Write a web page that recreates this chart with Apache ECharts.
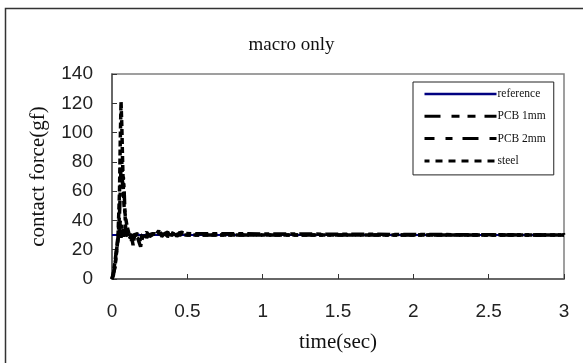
<!DOCTYPE html>
<html>
<head>
<meta charset="utf-8">
<script src="https://cdn.jsdelivr.net/npm/echarts@6/dist/echarts.min.js"></script>
<style>
  html, body { margin: 0; padding: 0; background: #fff; }
  #chart { width: 583px; height: 363px; }
</style>
</head>
<body>
<div id="chart"></div>
<script>
// Contact force transients, "macro only" run
const chartTitle = 'macro only';
const xAxisName = 'time(sec)';
const yAxisName = 'contact force(gf)';
const xTicks = [0, 0.5, 1, 1.5, 2, 2.5, 3];
const yTicks = [0, 20, 40, 60, 80, 100, 120, 140];

const seriesNames = ['reference', 'PCB 1mm', 'PCB 2mm', 'steel'];

const referenceTime = [0, 3];
const referenceForce = [30, 30];

const pcb1Time = [0, 0.01, 0.02, 0.03, 0.04, 0.05, 0.055, 0.06, 0.065, 0.07, 0.075, 0.08, 0.085, 0.09, 0.095,
  0.1, 0.11, 0.12, 0.13, 0.14, 0.15, 0.17, 0.19, 0.21, 0.23, 0.25, 0.28, 0.31, 0.34, 0.37, 0.4, 0.43, 0.46, 0.5,
  2.98, 2.99, 3.0];
const pcb1Force = [0, 3, 10, 18, 28, 45, 60, 78, 80, 64, 70, 62, 48, 36, 30,
  33, 28, 31, 26, 30, 29, 31, 25, 30, 32, 29, 31, 30, 32, 29, 31, 30, 32, 30,
  30, 32, 30];

const pcb2Time = [0, 0.01, 0.02, 0.03, 0.04, 0.05, 0.055, 0.06, 0.065, 0.07, 0.075, 0.08, 0.09,
  0.1, 0.11, 0.12, 0.13, 0.14, 0.15, 0.16, 0.17, 0.18, 0.19, 0.2, 0.21, 0.22, 0.23, 0.24, 0.25,
  0.27, 0.29, 0.31, 0.33, 0.35, 0.37, 0.39, 0.41, 0.43, 0.45, 0.47, 0.49, 0.5, 3.0];
const pcb2Force = [0, 5, 12, 20, 27, 34, 40, 28, 37, 31, 34, 29, 32,
  30, 31, 27, 29, 23, 30, 31, 28, 29, 22, 30, 29, 31, 28, 30, 29,
  31, 30, 33, 29, 31, 32, 28, 33, 29, 32, 30, 31, 30, 30];

const steelTime = [0, 0.02, 0.04, 0.05, 0.055, 0.06, 0.065, 0.07, 0.075, 0.08, 0.09, 0.1, 0.11, 0.12,
  0.13, 0.14, 0.16, 0.18, 0.2, 0.25, 0.3, 0.4, 0.5, 3.0];
const steelForce = [0, 8, 30, 60, 95, 121, 105, 82, 62, 50, 42, 36, 32, 28,
  31, 29, 30, 31, 29, 30, 31, 30, 30, 30];

const pairs = (t, v) => t.map((x, i) => [x, v[i]]);

const serif = 'Liberation Serif';
const sans = 'Liberation Sans';

// Dash patterns: tight ones for the plotted traces, longer ones for the key
const traceDash = { pcb1: [13, 4, 4, 4, 4, 4], pcb2: [13, 4, 5, 4], steel: [6, 3] };
const keyDash = { pcb1: [16, 11, 8, 8, 8, 9], pcb2: [16, 11, 7, 10], steel: [7, 6] };

const chart = echarts.init(document.getElementById('chart'), null, { renderer: 'canvas' });

chart.setOption({
  backgroundColor: '#ffffff',
  animation: false,
  title: {
    text: chartTitle,
    left: 'center',
    top: 31,
    textStyle: { fontFamily: serif, fontSize: 19, fontWeight: 'normal', color: '#111' }
  },
  graphic: [{
    type: 'rect',
    shape: { x: 5.5, y: 8.5, width: 640, height: 420 },
    style: { fill: 'none', stroke: '#333', lineWidth: 1.5 },
    silent: true,
    z: -1
  }],
  legend: {
    orient: 'vertical',
    left: 413,
    top: 82,
    padding: [6, 8, 8, 10],
    itemWidth: 72,
    itemHeight: 12,
    itemGap: 10.3,
    backgroundColor: '#fff',
    borderColor: '#222',
    borderWidth: 1,
    borderRadius: 0,
    itemStyle: { opacity: 0 },
    lineStyle: { width: 3 },
    textStyle: { fontFamily: serif, fontSize: 11.5, color: '#111', padding: [0, 0, 0, -4] },
    data: [
      { name: seriesNames[0], lineStyle: { width: 2.5 } },
      { name: seriesNames[1], lineStyle: { width: 3, type: keyDash.pcb1 } },
      { name: seriesNames[2], lineStyle: { width: 3, type: keyDash.pcb2 } },
      { name: seriesNames[3], lineStyle: { width: 3, type: keyDash.steel } }
    ]
  },
  grid: {
    left: 112, right: 19, top: 74, bottom: 84,
    show: true,
    borderColor: '#808080',
    borderWidth: 1.5,
    containLabel: false
  },
  xAxis: {
    type: 'value',
    min: 0, max: 3, interval: 0.5,
    name: xAxisName,
    nameLocation: 'middle',
    nameGap: 53,
    nameTextStyle: { fontFamily: serif, fontSize: 21, color: '#111' },
    axisLine: { show: true, lineStyle: { color: '#555', width: 1.5 } },
    axisTick: { show: true, inside: true, length: 5, lineStyle: { color: '#333' } },
    splitLine: { show: false },
    axisLabel: {
      margin: 23,
      fontFamily: sans, fontSize: 19, color: '#222',
      formatter: v => String(v)
    }
  },
  yAxis: {
    type: 'value',
    min: 0, max: 140, interval: 20,
    name: yAxisName,
    nameLocation: 'middle',
    nameGap: 63,
    nameTextStyle: { fontFamily: serif, fontSize: 21, color: '#111' },
    axisLine: { show: true, lineStyle: { color: '#555', width: 1.5 } },
    axisTick: { show: true, inside: true, length: 5, lineStyle: { color: '#333' } },
    splitLine: { show: false },
    axisLabel: { margin: 19, fontFamily: sans, fontSize: 19, color: '#222' }
  },
  series: [
    {
      name: seriesNames[0], type: 'line', symbol: 'none',
      data: pairs(referenceTime, referenceForce),
      lineStyle: { color: '#000080', width: 2 },
      itemStyle: { color: '#000080' }, z: 1
    },
    {
      name: seriesNames[1], type: 'line', symbol: 'none',
      data: pairs(pcb1Time, pcb1Force),
      lineStyle: { color: '#000', width: 3.5, type: traceDash.pcb1 },
      itemStyle: { color: '#000' }, z: 2
    },
    {
      name: seriesNames[2], type: 'line', symbol: 'none',
      data: pairs(pcb2Time, pcb2Force),
      lineStyle: { color: '#000', width: 3.5, type: traceDash.pcb2, dashOffset: 6 },
      itemStyle: { color: '#000' }, z: 3
    },
    {
      name: seriesNames[3], type: 'line', symbol: 'none',
      data: pairs(steelTime, steelForce),
      lineStyle: { color: '#000', width: 3.5, type: traceDash.steel, dashOffset: 2 },
      itemStyle: { color: '#000' }, z: 4
    }
  ]
});
</script>
</body>
</html>
